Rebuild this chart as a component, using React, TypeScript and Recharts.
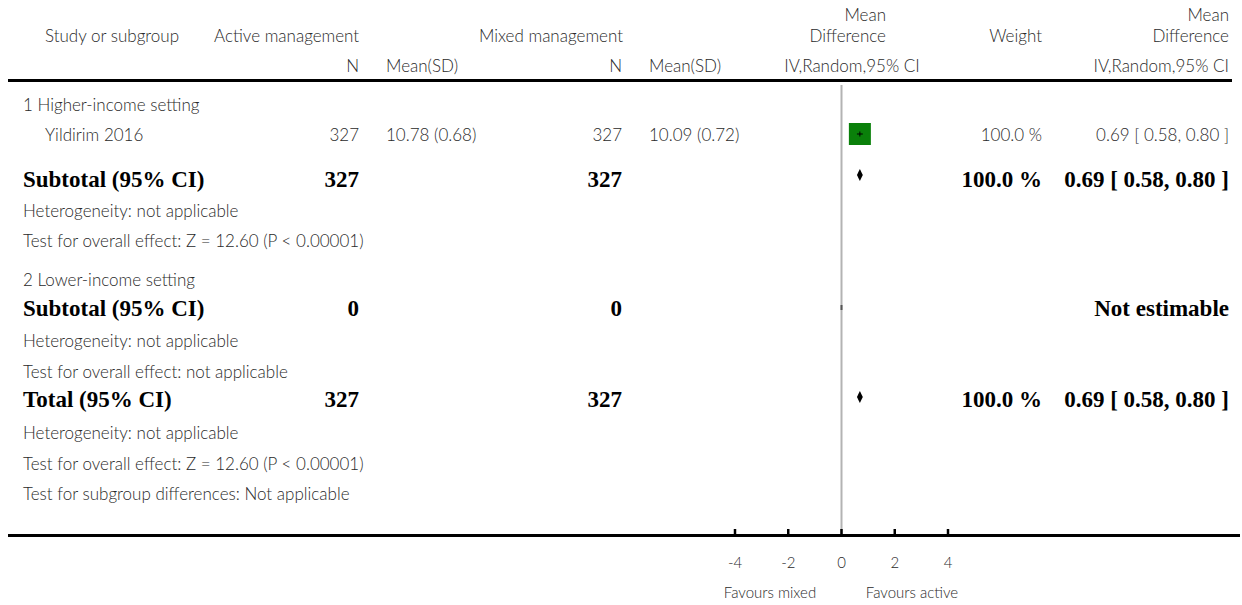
import { ScatterChart, Scatter, XAxis, YAxis, ReferenceLine, ReferenceArea } from "recharts";

// ---- data ----
const studyNames = ["Yildirim 2016"];
const activeN = [327];
const activeMean = [10.78];
const activeSD = [0.68];
const mixedN = [327];
const mixedMean = [10.09];
const mixedSD = [0.72];
const studyMD = [0.69];
const studyLo = [0.58];
const studyHi = [0.8];
const studyWeight = [100];

const subgroupNames = ["1 Higher-income setting", "2 Lower-income setting"];
const subtotalActiveN = [327, 0];
const subtotalMixedN = [327, 0];
const subtotalMD: (number | null)[] = [0.69, null];
const subtotalLo: (number | null)[] = [0.58, null];
const subtotalHi: (number | null)[] = [0.8, null];
const subtotalWeight: (number | null)[] = [100, null];
const subtotalHet = ["Heterogeneity: not applicable", "Heterogeneity: not applicable"];
const subtotalTest = [
  "Test for overall effect: Z = 12.60 (P < 0.00001)",
  "Test for overall effect: not applicable",
];

const totalActiveN = 327;
const totalMixedN = 327;
const totalMD = 0.69;
const totalLo = 0.58;
const totalHi = 0.8;
const totalWeight = 100;
const totalNotes = [
  "Heterogeneity: not applicable",
  "Test for overall effect: Z = 12.60 (P < 0.00001)",
  "Test for subgroup differences: Not applicable",
];

const xTicks = [-4, -2, 0, 2, 4];
const favours = ["Favours mixed", "Favours active"];

// ---- layout ----
const W = 1242;
const H = 605;
const PLOT = { left: 735, right: 948, top: 85, bottom: 535 };
const COL = {
  indent: 23,
  name: 45,
  activeN: 359,
  activeMean: 386,
  mixedN: 622,
  mixedMean: 649,
  forestHead: 886,
  forestSub: 852,
  weight: 1042,
  ci: 1229,
};
const ROW = {
  head0: 14,
  head1: 35,
  head2: 65,
  sg: [104, 279],
  study: [134],
  sub: [179, 308],
  het: [210, 340],
  test: [240, 371],
  total: 399,
  totalNotes: [432, 463, 493],
};
const TEXT = "#2a2a2a";

const fmtCI = (md: number, lo: number, hi: number) =>
  `${md.toFixed(2)} [ ${lo.toFixed(2)}, ${hi.toFixed(2)} ]`;
const fmtW = (w: number) => `${w.toFixed(1)} %`;
const fmtMean = (m: number, sd: number) => `${m.toFixed(2)} (${sd.toFixed(2)})`;

function T({ x, y, anchor = "start", bold = false, size, children }: any) {
  return (
    <text
      x={x}
      y={y}
      textAnchor={anchor}
      dominantBaseline="central"
      fontFamily={bold ? "'Liberation Serif', serif" : "Lato, sans-serif"}
      fontWeight={bold ? 700 : 300}
      fontSize={size ?? (bold ? 23 : 17)}
      fill={bold ? "#000" : TEXT}
    >
      {children}
    </text>
  );
}

function AxisTick({ x, y, payload }: any) {
  return (
    <g>
      <line x1={x} x2={x} y1={y - 6} y2={y} stroke="#000" strokeWidth={2.5} />
      <text
        x={x}
        y={y + 27}
        textAnchor="middle"
        dominantBaseline="central"
        fontFamily="Lato, sans-serif"
        fontWeight={300}
        fontSize={15}
        fill={TEXT}
      >
        {payload.value}
      </text>
    </g>
  );
}

function SquareShape({ cx, cy, payload }: any) {
  const s = Math.sqrt(payload.w / 100) * 22;
  return <rect x={cx - s / 2} y={cy - s / 2} width={s} height={s} fill="#0a800a" />;
}

function CiTick({ cx, cy, payload }: any) {
  if (payload.role !== "est") return <g />;
  return <line x1={cx} x2={cx} y1={cy - 2.5} y2={cy + 2.5} stroke="#000" strokeWidth={1} />;
}

function diamondShape(frac: number) {
  return ({ x, y, width, height }: any) => {
    const cy = y + height / 2;
    const mx = x + width * frac;
    return (
      <polygon
        points={`${x},${cy} ${mx},${y} ${x + width},${cy} ${mx},${y + height}`}
        fill="#000"
      />
    );
  };
}

export default function App() {
  const studyPoints = studyMD.map((md, i) => ({ x: md, y: ROW.study[i], w: studyWeight[i] }));
  const ciSets = studyMD.map((md, i) => [
    { x: studyLo[i], y: ROW.study[i], role: "lo" },
    { x: md, y: ROW.study[i], role: "est" },
    { x: studyHi[i], y: ROW.study[i], role: "hi" },
  ]);
  const diamonds = [
    ...subtotalMD.map((md, i) =>
      md == null ? null : { md, lo: subtotalLo[i] as number, hi: subtotalHi[i] as number, y: ROW.sub[i] - 4 }
    ),
    { md: totalMD, lo: totalLo, hi: totalHi, y: ROW.total - 2 },
  ].filter(Boolean) as { md: number; lo: number; hi: number; y: number }[];

  return (
    <div style={{ position: "absolute", left: 0, top: 0, width: W, height: H, background: "#fff" }}>
      <div style={{ position: "absolute", left: 0, top: 0 }}>
        <ScatterChart
          width={W}
          height={H}
          margin={{ top: PLOT.top, left: PLOT.left, right: W - PLOT.right, bottom: H - PLOT.bottom - 30 }}
        >
          <XAxis
            type="number"
            dataKey="x"
            domain={[-4, 4]}
            ticks={xTicks}
            interval={0}
            height={30}
            axisLine={false}
            tickLine={false}
            tickSize={0}
            tickMargin={0}
            tick={<AxisTick />}
            allowDataOverflow
          />
          <YAxis type="number" dataKey="y" domain={[PLOT.top, PLOT.bottom]} reversed hide allowDataOverflow />
          <ReferenceLine x={0} stroke="#b3b3b3" strokeWidth={2} ifOverflow="visible" />
          {subtotalMD.map((md, i) =>
            md == null ? (
              <ReferenceLine
                key={`ne-${i}`}
                segment={[{ x: 0, y: ROW.sub[i] - 3 }, { x: 0, y: ROW.sub[i] + 2 }]}
                stroke="#555"
                strokeWidth={2}
                ifOverflow="visible"
              />
            ) : null
          )}
          <Scatter data={studyPoints} shape={<SquareShape />} isAnimationActive={false} />
          {ciSets.map((pts, i) => (
            <Scatter
              key={`ci-${i}`}
              data={pts}
              line={{ stroke: "#000", strokeWidth: 1 }}
              lineType="joint"
              shape={<CiTick />}
              isAnimationActive={false}
            />
          ))}
          {diamonds.map((d, i) => (
            <ReferenceArea
              key={`dm-${i}`}
              x1={d.lo}
              x2={d.hi}
              y1={d.y - 6}
              y2={d.y + 6}
              ifOverflow="visible"
              shape={diamondShape((d.md - d.lo) / (d.hi - d.lo))}
            />
          ))}
        </ScatterChart>
      </div>
      <svg
        width={W}
        height={H}
        style={{ position: "absolute", left: 0, top: 0, pointerEvents: "none" }}
      >
        {/* header */}
        <T x={COL.name} y={ROW.head1}>Study or subgroup</T>
        <T x={214} y={ROW.head1}>Active management</T>
        <T x={COL.mixedN + 1} y={ROW.head1} anchor="end">Mixed management</T>
        <T x={COL.forestHead} y={ROW.head0} anchor="end">Mean</T>
        <T x={COL.forestHead} y={ROW.head1} anchor="end">Difference</T>
        <T x={COL.weight} y={ROW.head1} anchor="end">Weight</T>
        <T x={COL.ci} y={ROW.head0} anchor="end">Mean</T>
        <T x={COL.ci} y={ROW.head1} anchor="end">Difference</T>
        <T x={COL.activeN} y={ROW.head2} anchor="end">N</T>
        <T x={COL.activeMean} y={ROW.head2}>Mean(SD)</T>
        <T x={COL.mixedN} y={ROW.head2} anchor="end">N</T>
        <T x={COL.mixedMean} y={ROW.head2}>Mean(SD)</T>
        <T x={COL.forestSub} y={ROW.head2} anchor="middle">IV,Random,95% CI</T>
        <T x={COL.ci} y={ROW.head2} anchor="end">IV,Random,95% CI</T>
        <line x1={8} x2={1232} y1={80.5} y2={80.5} stroke="#000" strokeWidth={3} />

        {/* subgroups */}
        {subgroupNames.map((sg, g) => (
          <g key={sg}>
            <T x={COL.indent} y={ROW.sg[g]}>{sg}</T>
            {g === 0 &&
              studyNames.map((name, i) => (
                <g key={name}>
                  <T x={COL.name} y={ROW.study[i]}>{name}</T>
                  <T x={COL.activeN} y={ROW.study[i]} anchor="end">{activeN[i]}</T>
                  <T x={COL.activeMean} y={ROW.study[i]}>{fmtMean(activeMean[i], activeSD[i])}</T>
                  <T x={COL.mixedN} y={ROW.study[i]} anchor="end">{mixedN[i]}</T>
                  <T x={COL.mixedMean} y={ROW.study[i]}>{fmtMean(mixedMean[i], mixedSD[i])}</T>
                  <T x={COL.weight} y={ROW.study[i]} anchor="end">{fmtW(studyWeight[i])}</T>
                  <T x={COL.ci} y={ROW.study[i]} anchor="end">{fmtCI(studyMD[i], studyLo[i], studyHi[i])}</T>
                </g>
              ))}
            <T x={COL.indent} y={ROW.sub[g]} bold>Subtotal (95% CI)</T>
            <T x={COL.activeN} y={ROW.sub[g]} anchor="end" bold>{subtotalActiveN[g]}</T>
            <T x={COL.mixedN} y={ROW.sub[g]} anchor="end" bold>{subtotalMixedN[g]}</T>
            {subtotalMD[g] == null ? (
              <T x={COL.ci} y={ROW.sub[g]} anchor="end" bold>Not estimable</T>
            ) : (
              <>
                <T x={COL.weight} y={ROW.sub[g]} anchor="end" bold>{fmtW(subtotalWeight[g] as number)}</T>
                <T x={COL.ci} y={ROW.sub[g]} anchor="end" bold>
                  {fmtCI(subtotalMD[g] as number, subtotalLo[g] as number, subtotalHi[g] as number)}
                </T>
              </>
            )}
            <T x={COL.indent} y={ROW.het[g]}>{subtotalHet[g]}</T>
            <T x={COL.indent} y={ROW.test[g]}>{subtotalTest[g]}</T>
          </g>
        ))}

        {/* total */}
        <T x={COL.indent} y={ROW.total} bold>Total (95% CI)</T>
        <T x={COL.activeN} y={ROW.total} anchor="end" bold>{totalActiveN}</T>
        <T x={COL.mixedN} y={ROW.total} anchor="end" bold>{totalMixedN}</T>
        <T x={COL.weight} y={ROW.total} anchor="end" bold>{fmtW(totalWeight)}</T>
        <T x={COL.ci} y={ROW.total} anchor="end" bold>{fmtCI(totalMD, totalLo, totalHi)}</T>
        {totalNotes.map((n, i) => (
          <T key={n} x={COL.indent} y={ROW.totalNotes[i]}>{n}</T>
        ))}

        <line x1={8} x2={1240} y1={535.5} y2={535.5} stroke="#000" strokeWidth={3} />
        <T x={770} y={592} anchor="middle" size={15}>{favours[0]}</T>
        <T x={912} y={592} anchor="middle" size={15}>{favours[1]}</T>
      </svg>
    </div>
  );
}
